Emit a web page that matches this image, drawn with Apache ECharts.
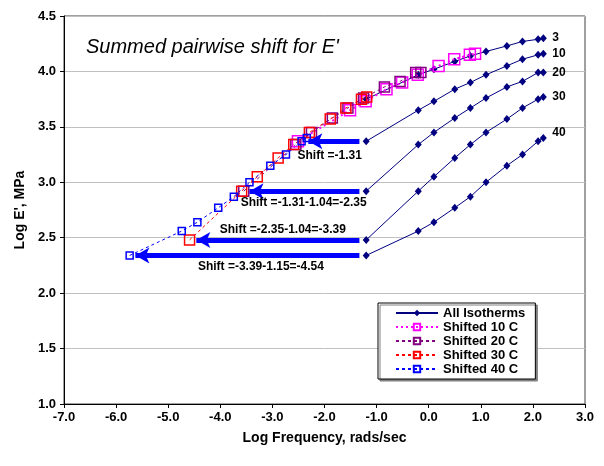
<!DOCTYPE html>
<html>
<head>
<meta charset="utf-8">
<script src="https://cdn.jsdelivr.net/npm/echarts@6/dist/echarts.min.js"></script>
<style>
  html, body { margin: 0; padding: 0; background: #ffffff; }
  #chart { width: 604px; height: 466px; }
</style>
</head>
<body>
<div id="chart"></div>
<script>
// Test frequencies, log10(rad/s)
const logFreq = [-1.2, -0.2, 0.1, 0.5, 0.8, 1.1, 1.5, 1.8, 2.1, 2.2];

// Log E' (MPa) for each isotherm
const iso3  = [3.75, 3.97, 4.02, 4.09, 4.14, 4.18, 4.23, 4.27, 4.29, 4.30];
const iso10 = [3.37, 3.65, 3.73, 3.84, 3.90, 3.97, 4.05, 4.11, 4.15, 4.16];
const iso20 = [2.92, 3.34, 3.45, 3.58, 3.67, 3.76, 3.86, 3.91, 3.99, 3.99];
const iso30 = [2.48, 2.92, 3.05, 3.22, 3.34, 3.45, 3.57, 3.67, 3.75, 3.77];
const iso40 = [2.34, 2.56, 2.64, 2.77, 2.87, 3.00, 3.15, 3.25, 3.37, 3.40];

const isoTemps = ['3', '10', '20', '30', '40'];

// Summed pairwise shift factors (log units) applied to 10, 20, 30, 40 C
const shiftValues = [-1.31, -2.35, -3.39, -4.54];
const shiftNames  = ['Shifted 10 C', 'Shifted 20 C', 'Shifted 30 C', 'Shifted 40 C'];
const shiftTexts  = [
  'Shift =-1.31',
  'Shift =-1.31-1.04=-2.35',
  'Shift =-2.35-1.04=-3.39',
  'Shift =-3.39-1.15=-4.54'
];

const xTicks = { min: -7, max: 3, step: 1 };
const yTicks = { min: 1, max: 4.5, step: 0.5 };

const FONT = 'Arial, "Liberation Sans", Helvetica, sans-serif';
const isoCurves = [iso3, iso10, iso20, iso30, iso40];
const shiftedCurves = [iso10, iso20, iso30, iso40];

// styling for the shifted series
const shiftStyles = [
  { color: '#FF00FF', size: 11, lw: 2,   dash: [2, 3] },
  { color: '#800080', size: 10, lw: 1,   dash: [3, 3] },
  { color: '#FF0000', size: 10, lw: 1,   dash: [3, 3] },
  { color: '#0000FF', size: 7,  lw: 1,   dash: [3, 3] }
];
// arrow tip gap (data units) and annotation anchor tweaks
const arrowLayout = [
  { tipGap: 0.20, labelX: -1.90, dy: 14 },
  { tipGap: 0.11, labelX: -2.40, dy: 12 },
  { tipGap: 0.13, labelX: -2.80, dy: -10 },
  { tipGap: 0.11, labelX: -3.22, dy: 11 }
];

const series = [];

isoCurves.forEach((ys, i) => {
  series.push({
    name: 'All Isotherms',
    type: 'line',
    data: logFreq.map((x, k) => [x, ys[k]]),
    symbol: 'diamond',
    symbolSize: [7, 8],
    itemStyle: { color: '#000080' },
    lineStyle: { color: '#000080', width: 1 },
    endLabel: {
      show: true,
      formatter: isoTemps[i],
      distance: 9,
      offset: i === 4 ? [0, -5] : [0, 0],
      color: '#000000',
      fontFamily: FONT,
      fontWeight: 'bold',
      fontSize: 12
    },
    emphasis: { disabled: true },
    animation: false,
    z: 2
  });
});

shiftedCurves.forEach((ys, i) => {
  const st = shiftStyles[i];
  const s = shiftValues[i];
  const lay = arrowLayout[i];
  const x0 = logFreq[0];
  const y0 = ys[0];
  series.push({
    name: shiftNames[i],
    type: 'line',
    data: logFreq.map((x, k) => [x + s, ys[k]]),
    symbol: 'rect',
    symbolSize: st.size,
    itemStyle: { color: 'rgba(255,255,255,0)', borderColor: st.color, borderWidth: 1.5 },
    lineStyle: { color: st.color, width: st.lw, type: st.dash },
    emphasis: { disabled: true },
    animation: false,
    z: 3,
    markLine: {
      silent: true,
      animation: false,
      symbol: ['none', 'arrow'],
      symbolSize: [12, 14],
      label: { show: false },
      emphasis: { disabled: true },
      lineStyle: { color: '#0000FF', width: 5, type: 'solid' },
      data: [[
        { coord: [x0 - 0.13, y0] },
        { coord: [x0 + s + lay.tipGap, y0] }
      ]]
    },
    markPoint: {
      silent: true,
      animation: false,
      symbol: 'rect',
      symbolSize: 0,
      label: {
        show: true,
        position: 'inside',
        formatter: shiftTexts[i],
        offset: [0, lay.dy],
        color: '#000000',
        fontFamily: FONT,
        fontWeight: 'bold',
        fontSize: 12
      },
      data: [{ coord: [lay.labelX, y0] }]
    }
  });
});

const chart = echarts.init(document.getElementById('chart'), null, { renderer: 'canvas' });

chart.setOption({
  backgroundColor: '#ffffff',
  animation: false,
  title: {
    text: "Summed pairwise shift for E'",
    left: 86,
    top: 37,
    padding: 0,
    textStyle: {
      fontFamily: FONT,
      fontStyle: 'italic',
      fontWeight: 'normal',
      fontSize: 20,
      color: '#000000'
    }
  },
  legend: {
    data: ['All Isotherms'].concat(shiftNames),
    orient: 'vertical',
    left: 378,
    top: 303,
    padding: [3, 10, 3, 17],
    itemWidth: 42,
    itemHeight: 8,
    itemGap: 0,
    backgroundColor: '#ffffff',
    borderColor: '#000000',
    borderWidth: 1,
    shadowColor: '#808080',
    shadowOffsetX: 2,
    shadowOffsetY: 2,
    shadowBlur: 0,
    selectedMode: false,
    textStyle: {
      fontFamily: FONT,
      fontWeight: 'bold',
      fontSize: 13,
      lineHeight: 14,
      color: '#000000'
    }
  },
  grid: {
    left: 64,
    right: 19,
    top: 16,
    bottom: 62,
    show: true,
    borderColor: '#404040',
    borderWidth: 1,
    backgroundColor: 'transparent'
  },
  xAxis: {
    type: 'value',
    min: xTicks.min,
    max: xTicks.max,
    interval: xTicks.step,
    name: 'Log Frequency, rads/sec',
    nameLocation: 'middle',
    nameGap: 27,
    nameTextStyle: { fontFamily: FONT, fontWeight: 'bold', fontSize: 14, color: '#000000' },
    axisLine: { show: true, onZero: false, lineStyle: { color: '#000000', width: 1 } },
    axisTick: { show: true, inside: false, length: 4, lineStyle: { color: '#000000' } },
    axisLabel: {
      margin: 7,
      fontFamily: FONT,
      fontWeight: 'bold',
      fontSize: 13,
      color: '#000000',
      formatter: v => v.toFixed(1)
    },
    splitLine: { show: false }
  },
  yAxis: {
    type: 'value',
    min: yTicks.min,
    max: yTicks.max,
    interval: yTicks.step,
    name: "Log E', MPa",
    nameLocation: 'middle',
    nameGap: 36,
    nameTextStyle: { fontFamily: FONT, fontWeight: 'bold', fontSize: 14, color: '#000000' },
    axisLine: { show: true, onZero: false, lineStyle: { color: '#000000', width: 1 } },
    axisTick: { show: true, inside: false, length: 4, lineStyle: { color: '#000000' } },
    axisLabel: {
      margin: 8,
      fontFamily: FONT,
      fontWeight: 'bold',
      fontSize: 13,
      color: '#000000',
      formatter: v => v.toFixed(1)
    },
    splitLine: { show: true, lineStyle: { color: '#c0c0c0', width: 1 } }
  },
  series: series
});
</script>
</body>
</html>
